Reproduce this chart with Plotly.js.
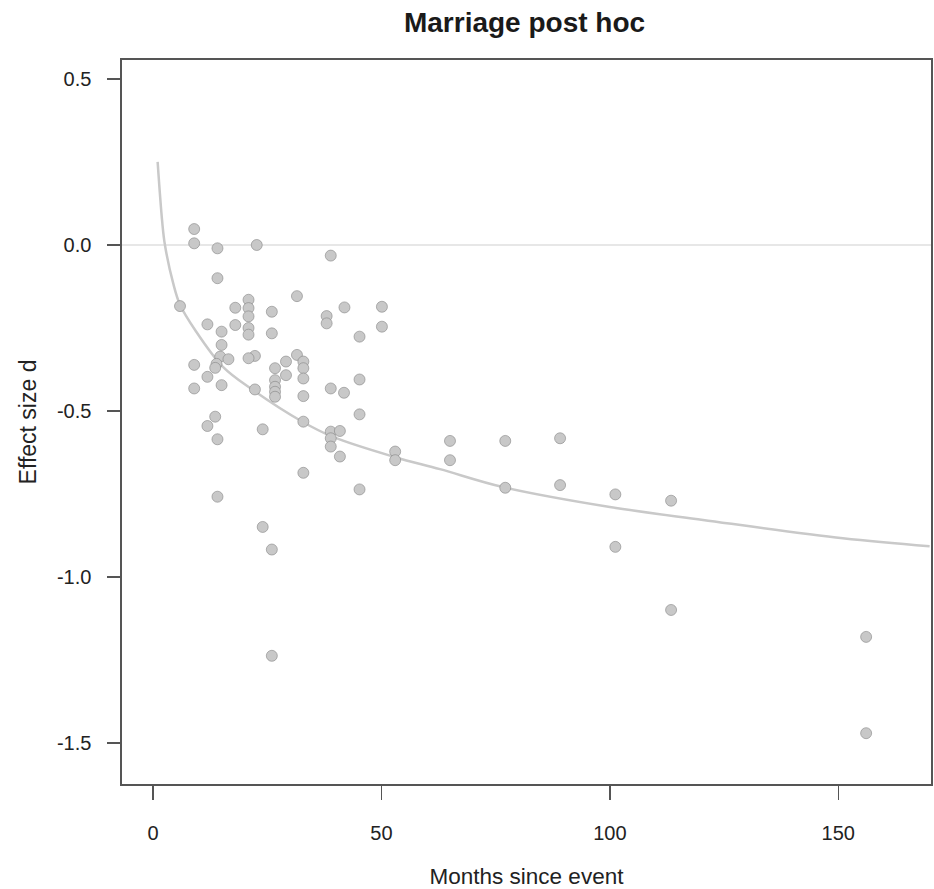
<!DOCTYPE html>
<html>
<head>
<meta charset="utf-8">
<script src="https://cdn.plot.ly/plotly-3.0.1.min.js"></script>
<style>html,body{margin:0;padding:0;background:#fff;}#chart{width:934px;height:889px;}</style>
</head>
<body>
<div id="chart"></div>
<script>
// Observed studies: months since event and effect size d
const months = [
  9, 9, 14.1, 22.7, 38.9, 14.1, 5.9,
  20.9, 20.9, 20.9, 20.9, 20.9, 31.5, 18, 18, 26, 26, 41.9, 50.1, 50.1,
  38, 38, 11.9, 15, 45.2, 15,
  9, 14.7, 16.5, 13.9, 13.6, 22.3, 20.9, 11.9, 9, 15, 22.3,
  26.7, 26.7, 26.7, 26.7, 26.7, 29.1, 29.1, 31.5,
  32.9, 32.9, 32.9, 32.9, 32.9, 38.9, 41.8, 45.2, 45.2,
  38.9, 40.9, 38.9, 38.9, 40.9, 53, 53,
  13.6, 11.9, 14.1, 24, 32.9, 45.2, 14.1, 24, 26, 26,
  65, 65, 77.1, 77.1, 89.1, 89.1, 101.2, 101.2, 113.4, 113.4, 156.1, 156.1
];
const effect = [
  0.048, 0.005, -0.01, 0.0, -0.032, -0.10, -0.184,
  -0.165, -0.19, -0.215, -0.25, -0.27, -0.154, -0.189, -0.241, -0.201, -0.266, -0.188, -0.186, -0.246,
  -0.214, -0.236, -0.239, -0.261, -0.276, -0.301,
  -0.361, -0.336, -0.344, -0.358, -0.37, -0.334, -0.341, -0.397, -0.432, -0.422, -0.435,
  -0.371, -0.407, -0.427, -0.442, -0.457, -0.351, -0.392, -0.331,
  -0.351, -0.371, -0.402, -0.455, -0.532, -0.432, -0.445, -0.405, -0.51,
  -0.562, -0.56, -0.582, -0.607, -0.637, -0.622, -0.648,
  -0.517, -0.545, -0.585, -0.555, -0.686, -0.736, -0.758, -0.849, -0.917, -1.237,
  -0.59, -0.648, -0.59, -0.731, -0.582, -0.723, -0.751, -0.909, -0.77, -1.099, -1.18, -1.47
];
// Fitted curve
const fitMonths = [1, 2, 2.6, 4.4, 5.9, 9.2, 15.3, 21.9, 32.8, 39.4, 53, 62.8, 76.6, 100, 120.4, 151, 170];
const fitEffect = [0.25, 0.07, 0.0, -0.115, -0.18, -0.256, -0.367, -0.437, -0.533, -0.578, -0.639, -0.675, -0.729, -0.789, -0.828, -0.883, -0.907];

const xTicks = [0, 50, 100, 150];
const xTickText = ['0', '50', '100', '150'];
const yTicks = [0.5, 0.0, -0.5, -1.0, -1.5];
const yTickText = ['0.5', '0.0', '-0.5', '-1.0', '-1.5'];

const font = 'Liberation Sans, Arial, Helvetica, sans-serif';

const traces = [
  {
    x: fitMonths, y: fitEffect, type: 'scatter', mode: 'lines',
    line: {color: '#c9c9c9', width: 2.5, shape: 'spline'},
    hoverinfo: 'skip', showlegend: false
  },
  {
    x: months, y: effect, type: 'scatter', mode: 'markers',
    marker: {size: 11, color: '#c8c8c8', line: {color: '#858585', width: 0.6}},
    showlegend: false
  }
];

const layout = {
  width: 934, height: 889,
  margin: {l: 122, r: 3, t: 60, b: 105},
  paper_bgcolor: '#fff', plot_bgcolor: '#fff',
  font: {family: font, color: '#222', size: 20},
  title: {
    text: '<b>Marriage post hoc</b>',
    font: {family: font, size: 28, color: '#1a1a1a'},
    x: 0.5616, xanchor: 'center', y: 0.975, yanchor: 'middle'
  },
  xaxis: {
    range: [-6.8, 170.3],
    tickvals: xTicks, ticktext: xTickText,
    ticks: 'outside', ticklen: 14, tickwidth: 1.5, tickcolor: '#555',
    showline: true, linecolor: '#555', linewidth: 1.6, mirror: true,
    showgrid: false, zeroline: false,
    ticklabelstandoff: 16,
    tickfont: {size: 20, color: '#222'},
    title: {text: 'Months since event', font: {size: 22.5, color: '#222'}, standoff: 27}
  },
  yaxis: {
    range: [-1.623, 0.557],
    tickvals: yTicks, ticktext: yTickText,
    ticks: 'outside', ticklen: 13, tickwidth: 1.5, tickcolor: '#555',
    showline: true, linecolor: '#555', linewidth: 1.6, mirror: true,
    showgrid: false, zeroline: false,
    ticklabelstandoff: 12,
    tickfont: {size: 20, color: '#222'},
    title: {text: 'Effect size d', font: {size: 23, color: '#222'}, standoff: 14}
  },
  shapes: [
    {type: 'line', xref: 'paper', x0: 0, x1: 1, yref: 'y', y0: 0, y1: 0,
     line: {color: '#cfcfcf', width: 1.2}, layer: 'below'}
  ]
};

Plotly.newPlot('chart', traces, layout, {displayModeBar: false, staticPlot: true});
</script>
</body>
</html>
